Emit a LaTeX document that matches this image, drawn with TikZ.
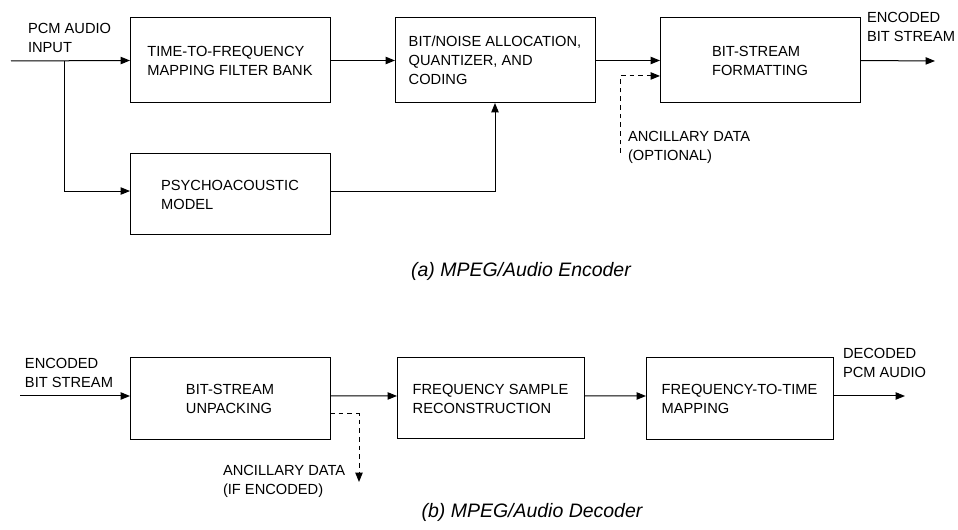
\documentclass[tikz,border=0pt]{standalone}
\usepackage{fontspec}
\setmainfont{Liberation Sans}
\usetikzlibrary{arrows.meta}
\begin{document}
\begin{tikzpicture}[x=0.75pt,y=-0.75pt,
  every node/.style={font=\fontsize{11pt}{14.3pt}\selectfont, inner sep=0pt, outer sep=0pt},
  blk/.style={draw, line width=0.75pt, align=left, minimum width=150pt, minimum height=63.75pt},
  blkn/.style={draw, line width=0.75pt, align=left, minimum width=140.25pt, minimum height=61.5pt},
  lbl/.style={align=left, anchor=west},
  captxt/.style={font=\fontsize{14.6pt}{17pt}\selectfont\itshape},
  conn/.style={line width=0.75pt, -{Triangle[length=7pt,width=5.5pt]}},
  dconn/.style={conn, dash pattern=on 3.5pt off 3pt}
]
\useasboundingbox (0,0) rectangle (958,530);

% ---------- Encoder ----------
\node[blk] (tf) at (230,60.5) {TIME-TO-FREQUENCY\\MAPPING FILTER BANK};
\node[blk] (alloc) at (495,60.5) {BIT/NOISE ALLOCATION,\\QUANTIZER, AND\\CODING};
\node[blk] (fmt) at (760,60.5) {BIT-STREAM\\FORMATTING};
\node[blk, minimum height=60.75pt] (psy) at (230,194.5) {PSYCHOACOUSTIC\\MODEL};

\node[lbl] (pcmin) at (28,38) {PCM AUDIO\\INPUT};
\node[lbl] (encout) at (867,27) {ENCODED\\BIT STREAM};
\node[lbl] (anc) at (628,147.5) {ANCILLARY DATA\\(OPTIONAL)};
\node[captxt] (capa) at (521,271) {(a) MPEG/Audio Encoder};

\coordinate (inA) at (11,61);
\coordinate (brA) at (64,61);
\coordinate (outA) at (935,61);
\coordinate (ancA) at (620,153);

\draw[conn] (inA) -- (tf.west);
\draw[conn] (brA) |- ([yshift=2.6pt]psy.west);
\draw[conn] (tf.east) -- (alloc.west);
\draw[conn] (alloc.east) -- (fmt.west);
\draw[conn] (fmt.east) -- (outA);
\draw[conn] ([yshift=2.6pt]psy.east) -| (alloc.south);
\draw[dconn] (ancA) |- ([yshift=-11.6pt]fmt.west);

% ---------- Decoder ----------
\node[blk, minimum height=61.5pt] (unp) at (230,399) {BIT-STREAM\\UNPACKING};
\node[blkn, minimum height=60.75pt] (fsr) at (490.5,398.5) {FREQUENCY SAMPLE\\RECONSTRUCTION};
\node[blkn] (ftt) at (739.5,399) {FREQUENCY-TO-TIME\\MAPPING};

\node[lbl] (encin) at (25,372.5) {ENCODED\\BIT STREAM};
\node[lbl] (decout) at (843,362.5) {DECODED\\PCM AUDIO};
\node[lbl] (ancb) at (223,481.5) {ANCILLARY DATA\\(IF ENCODED)};
\node[captxt] (capb) at (532,512) {(b) MPEG/Audio Decoder};

\coordinate (inB) at (20,396);
\coordinate (outB) at (905,396);
\coordinate (ancB) at (359,482);

\draw[conn] (inB) -- ([yshift=2.25pt]unp.west);
\draw[conn] ([yshift=2.25pt]unp.east) -- ([yshift=1.9pt]fsr.west);
\draw[conn] ([yshift=1.9pt]fsr.east) -- ([yshift=2.25pt]ftt.west);
\draw[conn] ([yshift=2.25pt]ftt.east) -- (outB);
\draw[dconn] ([yshift=-11.25pt]unp.east) -| (ancB);
\end{tikzpicture}
\end{document}
